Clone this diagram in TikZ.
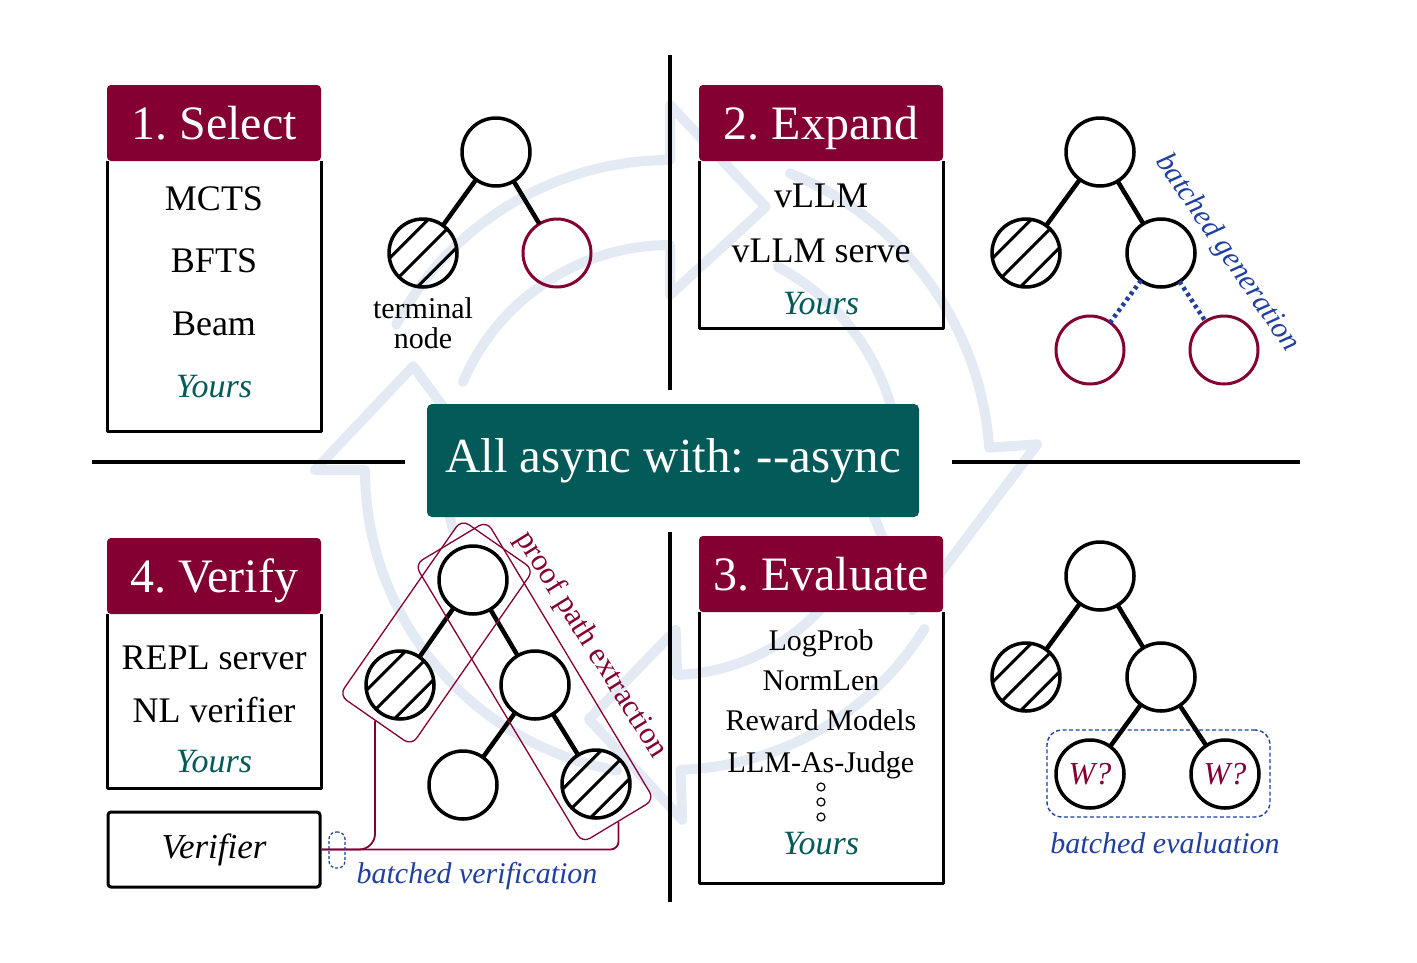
\documentclass[tikz,border=0pt]{standalone}
\usepackage{fontspec}
\setmainfont{Liberation Serif}
\usetikzlibrary{calc}
\definecolor{mar}{RGB}{132,0,50}
\definecolor{tealc}{RGB}{3,90,88}
\definecolor{bluec}{RGB}{32,64,160}
\definecolor{wmc}{RGB}{228,234,244}
\frenchspacing
\newcommand\hatchit[1]{%
  \begin{scope}
    \clip (#1.center) circle[radius=34pt];
    \foreach \o in {-20,0,20}{\draw[hatchln] ($(#1.center)+(\o*0.7071-60,\o*0.7071+60)$) -- ++(120,-120);}
  \end{scope}}
\begin{document}
\begin{tikzpicture}[x=1pt,y=-1pt,
  wm/.style={draw=wmc, line width=10pt, line cap=round, line join=round},
  sepline/.style={line width=4pt},
  hdr/.style={fill=mar, text=white, rounded corners=4pt, minimum height=76pt, inner sep=0pt, outer sep=0pt,
    text height=33pt, text depth=0pt, font=\fontsize{48}{50}\selectfont},
  boxln/.style={line width=3pt, line join=round},
  item/.style={anchor=base, inner sep=0pt, font=\fontsize{36}{40}\selectfont},
  itemsm/.style={anchor=base, inner sep=0pt, font=\fontsize{30}{34}\selectfont},
  yours/.style={anchor=base, inner sep=0pt, text=tealc, font=\fontsize{34}{40}\selectfont\itshape},
  tn/.style={circle, draw, line width=3.5pt, minimum size=68pt, inner sep=0pt, outer sep=0pt},
  tnm/.style={tn, draw=mar, line width=3pt},
  edge/.style={line width=4.5pt},
  dotedge/.style={draw=bluec, line width=4.5pt, dash pattern=on 3.5pt off 3.5pt},
  hatchln/.style={line width=3pt},
  btxt/.style={text=bluec, inner sep=0pt, font=\fontsize{30}{34}\selectfont\itshape},
  prect/.style={draw=mar, line width=1.3pt, rounded corners=9pt, inner sep=0pt},
  mline/.style={draw=mar, line width=1.8pt}
]
\useasboundingbox (0,0) rectangle (1417,962);
\fill[white] (0,0) rectangle (1417,962);

% ---------- watermark (cycle of four arrows) ----------
\begin{scope}[shift={(670,470)}]
  \draw[wm] (152:310pt) arc[start angle=152,end angle=90,radius=310pt] -- (90:365pt) -- (70:280pt) -- (90:175pt) -- (90:225pt) arc[start angle=90,end angle=157,radius=225pt];
  \draw[wm] (68:320pt) arc[start angle=68,end angle=4,radius=320pt] -- (4:368pt) -- (-30:280pt) -- (4:180pt) -- (4:230pt) arc[start angle=4,end angle=62,radius=230pt];
  \draw[wm] (-32:300pt) arc[start angle=-32,end angle=-88,radius=300pt] -- (-88:350pt) -- (-108:262pt) -- (-88:160pt) -- (-88:205pt) arc[start angle=-88,end angle=-34,radius=205pt];
  \draw[wm] (-100:305pt) arc[start angle=-100,end angle=-180,radius=305pt] -- (180:355pt) -- (158:277pt) -- (180:180pt) -- (180:225pt) arc[start angle=180,end angle=195,radius=225pt];
\end{scope}

% ---------- separators ----------
\draw[sepline] (670,55) -- (670,390);
\draw[sepline] (670,532) -- (670,902);
\draw[sepline] (92,462) -- (405,462);
\draw[sepline] (952,462) -- (1300,462);

% ---------- centre box ----------
\node[fill=tealc, rounded corners=5pt, minimum width=492pt, minimum height=113pt, text=white,
  font=\fontsize{49}{52}\selectfont] (mid) at (673,460.5) {All async with: \mbox{-}\mbox{-}async};

% ---------- 1. Select ----------
\node[hdr, minimum width=214pt] (hS) at (214,123) {1. Select};
\draw[boxln] (hS.south west) -- (hS.south west |- 0,431) -- (hS.south east |- 0,431) -- (hS.south east);
\node[item] (s1) at (214,210) {MCTS};
\node[item] (s2) at (214,272) {BFTS};
\node[item] (s3) at (214,335) {Beam};
\node[yours] (s4) at (214,397) {Yours};

% tree 1
\node[tn] (t1r) at (496,152) {};
\node[tn] (t1a) at (423,253) {};
\node[tnm] (t1b) at (557,253) {};
\hatchit{t1a}
\draw[edge] (t1r) -- (t1a);
\draw[edge] (t1r) -- (t1b);
\node[itemsm] (tl1) at (423,318) {terminal};
\node[itemsm] (tl2) at (423,348) {node};

% ---------- 2. Expand ----------
\node[hdr, minimum width=244pt] (hE) at (821,123) {2. Expand};
\draw[boxln] (hE.south west) -- (hE.south west |- 0,328) -- (hE.south east |- 0,328) -- (hE.south east);
\node[item] (e1) at (821,207) {vLLM};
\node[item] (e2) at (821,262) {vLLM serve};
\node[yours] (e3) at (821,314) {Yours};

% tree 2
\node[tn] (t2r) at (1100,152) {};
\node[tn] (t2a) at (1026,253) {};
\node[tn] (t2b) at (1161,253) {};
\node[tnm] (t2c) at (1090,350) {};
\node[tnm] (t2d) at (1224,350) {};
\hatchit{t2a}
\draw[edge] (t2r) -- (t2a);
\draw[edge] (t2r) -- (t2b);
\draw[dotedge] (t2b) -- (t2c);
\draw[dotedge] (t2b) -- (t2d);
\node[btxt, rotate=-55.5] (bgen) at (1227,253) {batched generation};

% ---------- 3. Evaluate ----------
\node[hdr, minimum width=244pt] (hEv) at (821,574) {3. Evaluate};
\draw[boxln] (hEv.south west) -- (hEv.south west |- 0,883) -- (hEv.south east |- 0,883) -- (hEv.south east);
\node[itemsm] (v1t) at (821,650) {LogProb};
\node[itemsm] (v2t) at (821,690) {NormLen};
\node[itemsm] (v3t) at (821,730) {Reward Models};
\node[itemsm] (v4t) at (821,772) {LLM-As-Judge};
\foreach \yy [count=\i] in {787,802,817}{\node[circle, draw, line width=1.2pt, minimum size=8pt, inner sep=0pt] (dot\i) at (821,\yy) {};}
\node[yours] (v5t) at (821,854) {Yours};

% tree 3
\node[draw=bluec, dash pattern=on 4pt off 2.5pt, line width=1.4pt, rounded corners=15pt,
  minimum width=223pt, minimum height=87pt, inner sep=0pt] (bev) at (1158.5,773.5) {};
\node[tn] (t3r) at (1100,576) {};
\node[tn] (t3a) at (1026,677) {};
\node[tn] (t3b) at (1161,677) {};
\node[tn, text=mar, font=\fontsize{32}{34}\selectfont\itshape] (t3c) at (1090,774) {W?};
\node[tn, text=mar, font=\fontsize{32}{34}\selectfont\itshape] (t3d) at (1225,774) {W?};
\hatchit{t3a}
\draw[edge] (t3r) -- (t3a);
\draw[edge] (t3r) -- (t3b);
\draw[edge] (t3b) -- (t3c);
\draw[edge] (t3b) -- (t3d);
\node[btxt, anchor=base] (beval) at (1165,853) {batched evaluation};

% ---------- 4. Verify ----------
\node[hdr, minimum width=214pt] (hV) at (214,576) {4. Verify};
\draw[boxln] (hV.south west) -- (hV.south west |- 0,788) -- (hV.south east |- 0,788) -- (hV.south east);
\node[item] (r1) at (214,669) {REPL server};
\node[item] (r2) at (214,722) {NL verifier};
\node[yours] (r3) at (214,772) {Yours};

\node[draw, line width=3pt, rounded corners=3pt, minimum width=212pt, minimum height=75pt, inner sep=0pt,
  font=\fontsize{35}{40}\selectfont\itshape] (ver) at (214,849.5) {Verifier};

% tree 4
\node[tn] (w0) at (473,580) {};
\node[tn] (w1) at (400,685) {};
\node[tn] (w2) at (535,685) {};
\node[tn] (w3) at (463,785) {};
\node[tn] (w4) at (596,784) {};
\hatchit{w1}
\hatchit{w4}
\draw[edge] (w0) -- (w1);
\draw[edge] (w0) -- (w2);
\draw[edge] (w2) -- (w3);
\draw[edge] (w2) -- (w4);
\node[prect, minimum width=214pt, minimum height=88pt, rotate=55.2] (pa) at ($(w0)!0.5!(w1)$) {};
\node[prect, minimum width=325pt, minimum height=84pt, rotate=-59] (pb) at ($(w0)!0.5!(w4)$) {};
\node[rotate=-58, text=mar, inner sep=0pt, font=\fontsize{31}{33}\selectfont] (ppe) at (591,645) {proof path extraction};
\draw[mline, rounded corners=16pt] (pa.west) |- (ver.east);
\draw[mline, rounded corners=8pt] (pb.east) |- (ver.east);
\node[draw=bluec, dash pattern=on 3pt off 2pt, line width=1.2pt, rounded corners=7pt, minimum width=16pt,
  minimum height=36pt, inner sep=0pt] (bvm) at (337,850) {};
\node[btxt, anchor=base] (bver) at (477,883) {batched verification};
\end{tikzpicture}
\end{document}
